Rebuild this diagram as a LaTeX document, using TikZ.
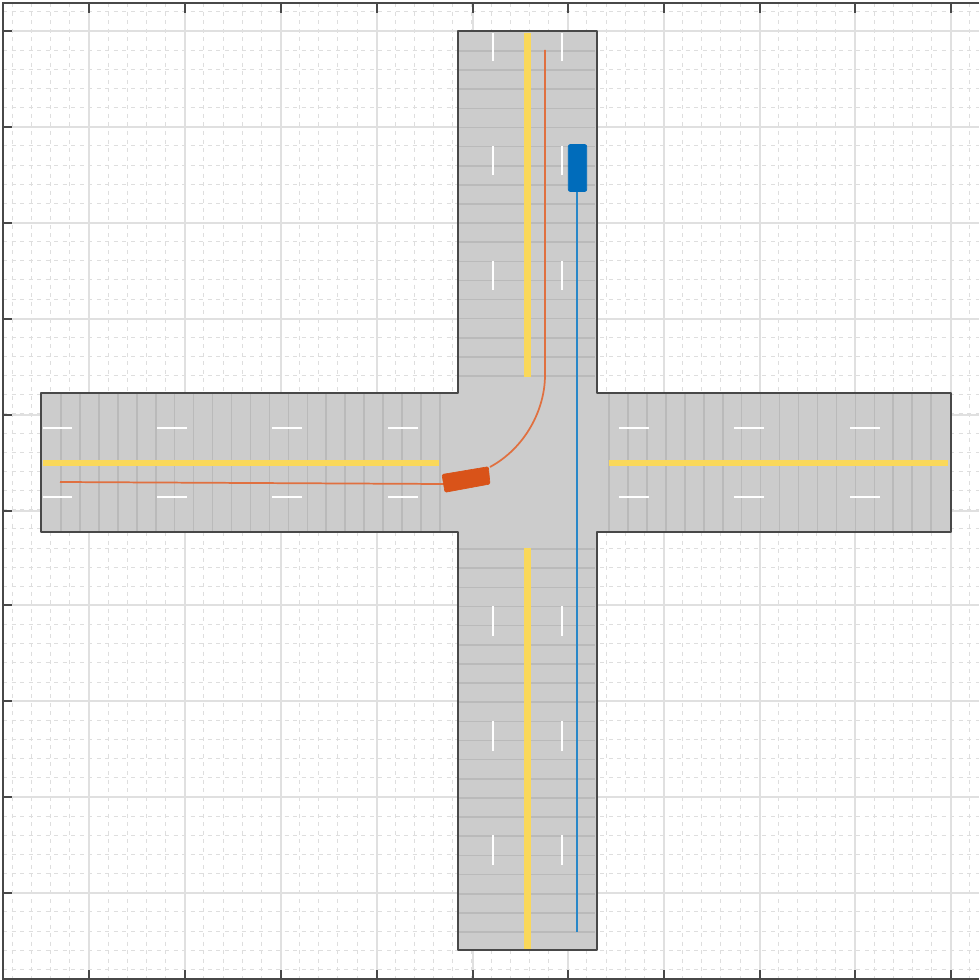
\documentclass[tikz,border=0pt]{standalone}
\definecolor{roadgray}{RGB}{204,204,204}
\definecolor{seamgray}{RGB}{186,186,186}
\definecolor{lanegold}{RGB}{250,216,90}
\definecolor{egoorange}{RGB}{217,83,25}
\definecolor{trackorange}{RGB}{224,112,64}
\definecolor{carblue}{RGB}{0,108,187}
\definecolor{trackblue}{RGB}{40,135,200}
\definecolor{axisdark}{RGB}{72,72,72}
\definecolor{majorgrid}{RGB}{224,224,224}
\definecolor{minorgrid}{RGB}{222,222,222}
\tikzset{
  x=0.75pt,y=-0.75pt,
  majorline/.style={draw=majorgrid,line width=1pt},
  minorline/.style={draw=minorgrid,line width=0.8pt,dash pattern=on 3pt off 3.4pt},
  seam/.style={draw=seamgray,line width=1.2pt},
  whitedash/.style={draw=white,line width=2.2pt},
  yellowline/.style={draw=lanegold,line width=4.9pt},
  outline/.style={draw=axisdark,line width=1.8pt,line join=round},
  tickmark/.style={draw=axisdark,line width=1.3pt},
}
\begin{document}
\begin{tikzpicture}
\useasboundingbox (0,0) rectangle (979,980);
\fill[white] (0,0) rectangle (979,980);
% minor grid
\foreach \i in {-4,...,46}{
  \pgfmathsetmacro{\xp}{89+19.15*\i}
  \draw[minorline] (\xp,3) -- (\xp,979);
}
\foreach \i in {-1,...,49}{
  \pgfmathsetmacro{\yp}{31+19.15*\i}
  \draw[minorline] (3,\yp) -- (979,\yp);
}
% major grid
\foreach \xp in {89,185,281,377,473,568,664,760,855,951}{
  \draw[majorline] (\xp,3) -- (\xp,979);
}
\foreach \yp in {31,127,223,319,415,511,605,701,797,893}{
  \draw[majorline] (3,\yp) -- (979,\yp);
}
% road surface
\fill[roadgray] (458,31) -- (597,31) -- (597,393) -- (951,393) -- (951,532) -- (597,532) -- (597,950) -- (458,950) -- (458,532) -- (41,532) -- (41,393) -- (458,393) -- cycle;
% road seams
\foreach \i in {1,...,21}{
  \pgfmathsetmacro{\xp}{42+18.95*\i}
  \draw[seam] (\xp,394) -- (\xp,531);
}
\foreach \i in {0,...,17}{
  \pgfmathsetmacro{\xp}{609+18.95*\i}
  \draw[seam] (\xp,394) -- (\xp,531);
}
\foreach \i in {0,...,17}{
  \pgfmathsetmacro{\yp}{51+19.12*\i}
  \draw[seam] (459,\yp) -- (595,\yp);
}
\foreach \i in {0,...,20}{
  \pgfmathsetmacro{\yp}{549+19.15*\i}
  \draw[seam] (459,\yp) -- (595,\yp);
}
% white dashes
\foreach \a/\b in {43/72,157/187,272/302,388/418,619/649,734/764,850/880}{
  \draw[whitedash] (\a,428) -- (\b,428);
  \draw[whitedash] (\a,497) -- (\b,497);
}
\foreach \a/\b in {33/61,146/175,261/290,606/636,721/751,835/865}{
  \draw[whitedash] (493,\a) -- (493,\b);
  \draw[whitedash] (562,\a) -- (562,\b);
}
% yellow lines
\draw[yellowline] (43,463) -- (439,463);
\draw[yellowline] (609,463) -- (948,463);
\draw[yellowline] (527.5,33) -- (527.5,377);
\draw[yellowline] (527.5,548) -- (527.5,949);
% road outline
\draw[outline] (458,31) -- (597,31) -- (597,393) -- (951,393) -- (951,532) -- (597,532) -- (597,950) -- (458,950) -- (458,532) -- (41,532) -- (41,393) -- (458,393) -- cycle;
% vehicle tracks
\coordinate (blueStart) at (577,190);
\coordinate (blueEnd) at (577,932);
\coordinate (orangeStart) at (545,50);
\coordinate (orangeEnd) at (60,482);
\draw[trackblue,line width=1.5pt] (blueStart) -- (blueEnd);
\draw[trackorange,line width=1.3pt] (orangeStart) -- (545,375) .. controls (545,410) and (525,448) .. (490,467);
\draw[trackorange,line width=1.3pt] (444,484) -- (orangeEnd);
% vehicles
\draw[fill=egoorange,draw=egoorange,line width=0.5pt,rounded corners=1pt] (442,474.5) -- (488.3,466.7) -- (490,484) -- (445,492.3) -- cycle;
\draw[fill=carblue,draw=carblue,line width=0.5pt,rounded corners=1.5pt] (568.3,144.5) rectangle (586.7,191.5);
% axes
\draw[draw=axisdark,line width=1.5pt] (979,979) -- (3,979) -- (3,3) -- (979,3);
\foreach \xp in {89,185,281,377,473,568,664,760,855,951}{
  \draw[tickmark] (\xp,3) -- (\xp,13);
  \draw[tickmark] (\xp,979) -- (\xp,970);
}
\foreach \yp in {31,127,223,319,415,511,605,701,797,893}{
  \draw[tickmark] (3,\yp) -- (12,\yp);
}
\end{tikzpicture}
\end{document}
